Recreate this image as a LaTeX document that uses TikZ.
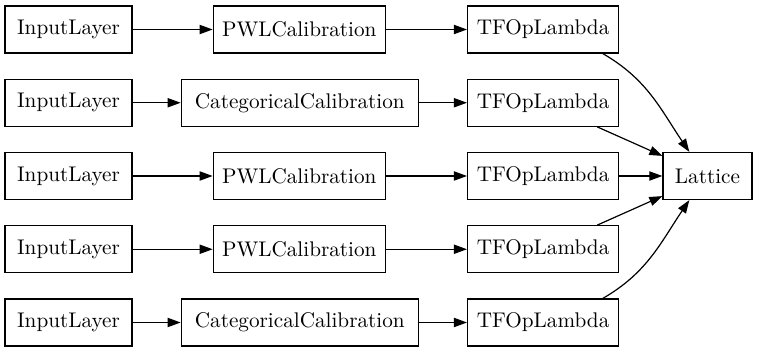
\documentclass[tikz,border=0pt]{standalone}
\usepackage{tikz}
\usetikzlibrary{arrows.meta,positioning}
\tikzset{
  layerbox/.style={draw, line width=0.65pt, minimum width=#1,
                   minimum height=23.5pt, inner sep=2pt,
                   font=\fontsize{10.6}{12}\selectfont},
  layerbox/.default=63.5pt,
  arr/.style={-{Triangle[length=6.5pt,width=4.6pt]}, line width=0.6pt},
}
\begin{document}
\begin{tikzpicture}[x=0.5pt,y=-0.5pt]
  \useasboundingbox (0,0) rectangle (757,353);
  %% inputs
  \node[layerbox] (in1) at (68.5,29.5)  {InputLayer};
  \node[layerbox] (in2) at (68.5,102.75) {InputLayer};
  \node[layerbox] (in3) at (68.5,176)   {InputLayer};
  \node[layerbox] (in4) at (68.5,249.25) {InputLayer};
  \node[layerbox] (in5) at (68.5,322.5) {InputLayer};
  %% calibrators
  \node[layerbox=86pt,    right=40pt of in1] (cal1) {PWLCalibration};
  \node[layerbox=118.5pt, right=24pt of in2] (cal2) {CategoricalCalibration};
  \node[layerbox=86pt,    right=40pt of in3] (cal3) {PWLCalibration};
  \node[layerbox=86pt,    right=40pt of in4] (cal4) {PWLCalibration};
  \node[layerbox=118.5pt, right=24pt of in5] (cal5) {CategoricalCalibration};
  %% lambdas
  \node[layerbox=75.5pt, right=40.5pt of cal1] (tf1) {TFOpLambda};
  \node[layerbox=75.5pt, right=24pt of cal2]   (tf2) {TFOpLambda};
  \node[layerbox=75.5pt, right=40.5pt of cal3] (tf3) {TFOpLambda};
  \node[layerbox=75.5pt, right=40.5pt of cal4] (tf4) {TFOpLambda};
  \node[layerbox=75.5pt, right=24pt of cal5]   (tf5) {TFOpLambda};
  \node[layerbox=44.5pt] (lat) at (707.5,176) {Lattice};
  %% edges
  \draw[arr] (in1) -- (cal1);
  \draw[arr] (in2) -- (cal2);
  \draw[arr] (in3) -- (cal3);
  \draw[arr] (in4) -- (cal4);
  \draw[arr] (in5) -- (cal5);
  \draw[arr] (cal1) -- (tf1);
  \draw[arr] (cal2) -- (tf2);
  \draw[arr] (cal3) -- (tf3);
  \draw[arr] (cal4) -- (tf4);
  \draw[arr] (cal5) -- (tf5);
  \draw[arr] (tf1.-22) to[out=-30,in=124] (lat.127);
  \draw[arr] (tf2) -- (lat);
  \draw[arr] (tf3) -- (lat);
  \draw[arr] (tf4) -- (lat);
  \draw[arr] (tf5.22) to[out=30,in=-124] (lat.-127);
\end{tikzpicture}
\end{document}
